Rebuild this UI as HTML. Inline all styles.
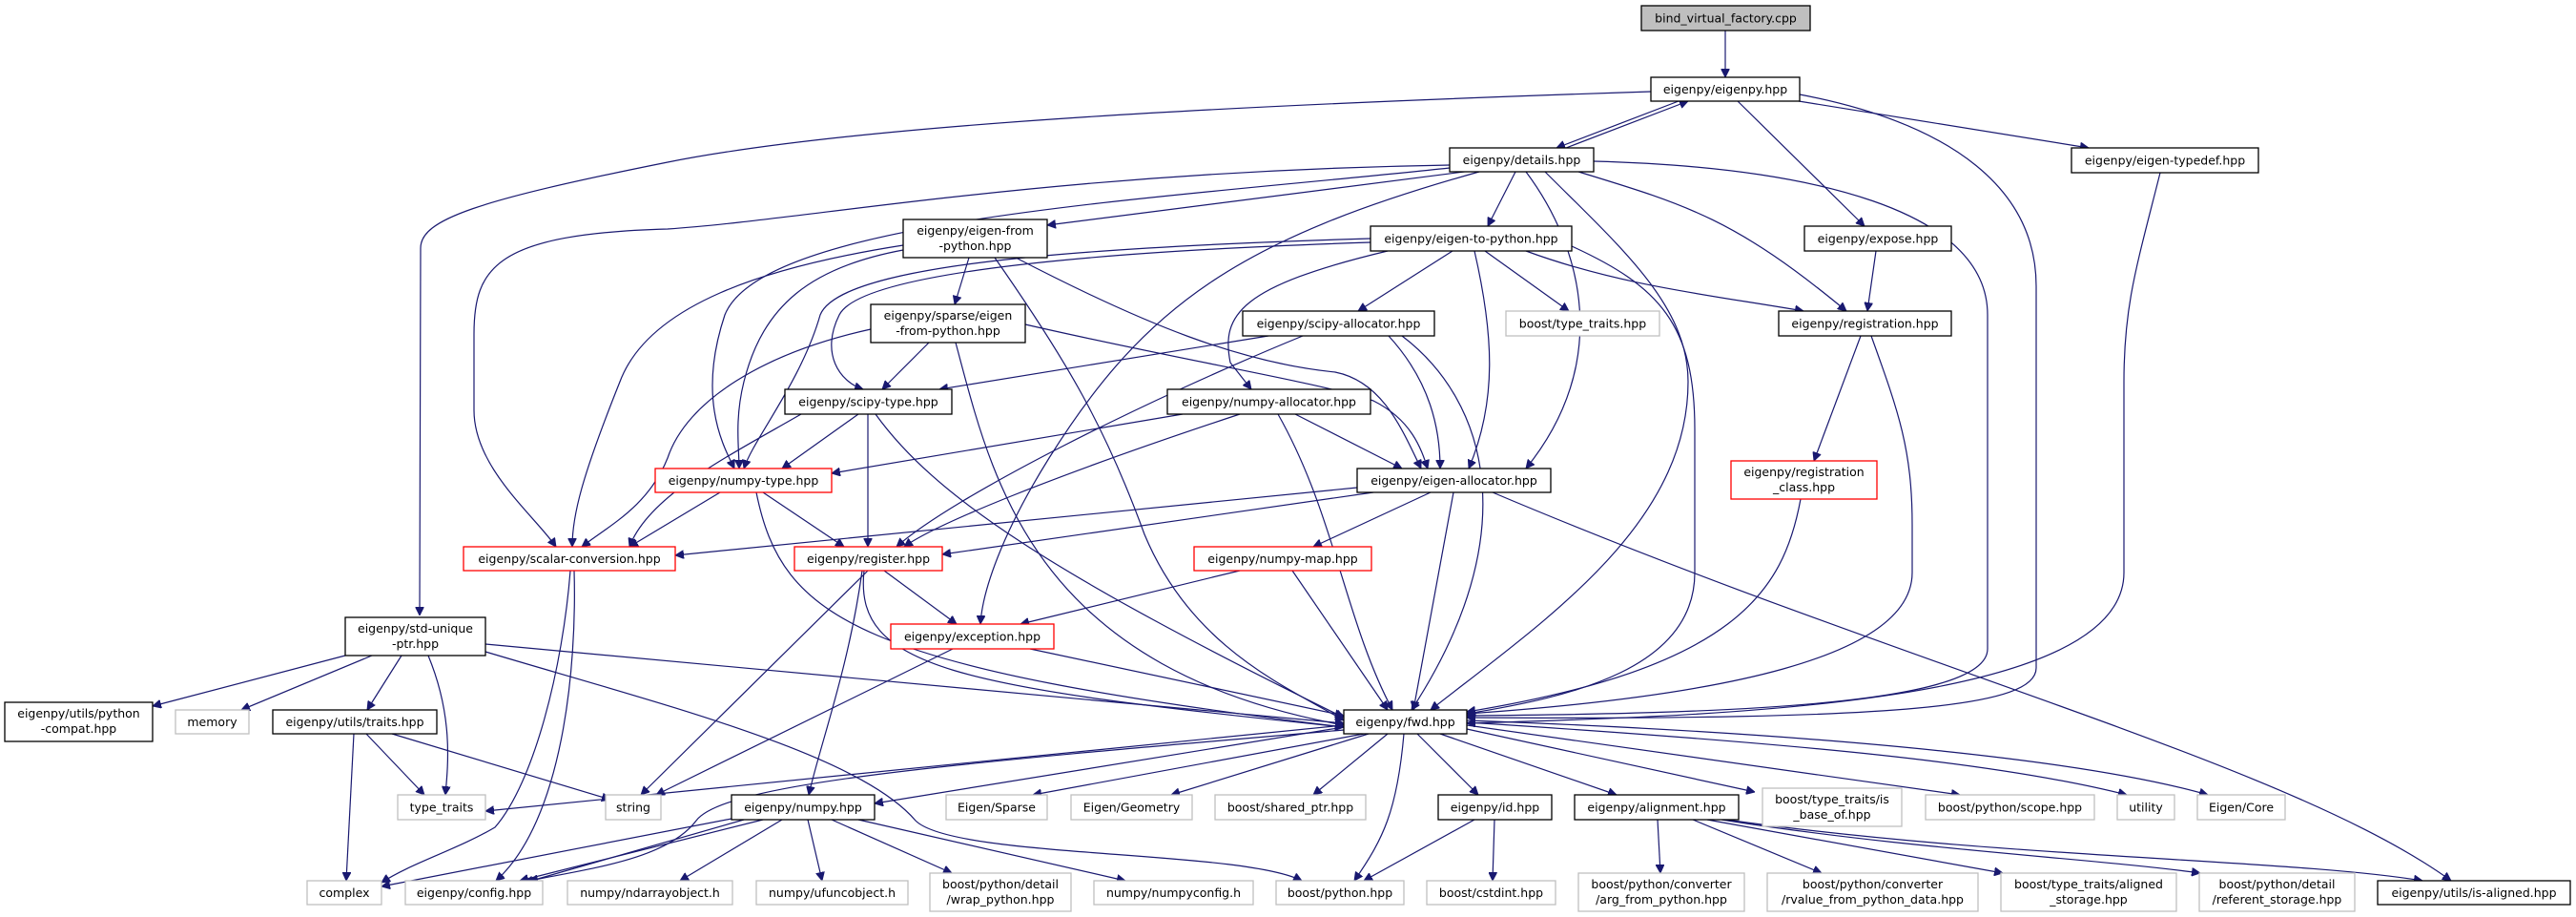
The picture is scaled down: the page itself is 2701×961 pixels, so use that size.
<!DOCTYPE html>
<html><head><meta charset="utf-8"><style>
html,body{margin:0;padding:0;background:#fff;}
svg{display:block;}
text{font-family:"DejaVu Sans","Liberation Sans",sans-serif;font-size:12.5px;fill:#000;text-anchor:middle;}
.n{fill:#fff;stroke:#000;stroke-width:1.3;}
.g{fill:#fff;stroke:#bfbfbf;stroke-width:1.3;}
.r{fill:#fff;stroke:#ff0000;stroke-width:1.3;}
.e path{fill:none;stroke:#191970;stroke-width:1.2;}
</style></head><body>
<svg width="2701" height="961" viewBox="0 0 2701 961" xmlns="http://www.w3.org/2000/svg">
<defs><marker id="a" viewBox="0 0 10 10" refX="10" refY="5" markerWidth="9" markerHeight="9" markerUnits="userSpaceOnUse" orient="auto"><path d="M0,0 L10,5 L0,10 z" fill="#191970" stroke="#191970"/></marker></defs>
<g class="e" marker-end="url(#a)">
<path marker-end="url(#a)" d="M1809,32 L1809,81"/>
<path marker-end="url(#a)" d="M1760,106 L1632,155"/>
<path marker-end="url(#a)" d="M1642,155 L1770,106"/>
<path marker-end="url(#a)" d="M1886,106 L2190,155"/>
<path marker-end="url(#a)" d="M1822,106 L1955,237"/>
<path marker-end="url(#a)" d="M1887,99 C2050,130 2135,200 2135,300 L2135,700 C2135,740 2000,755 1538,752"/>
<path marker-end="url(#a)" d="M1731,96 C1300,110 900,130 700,170 C500,210 441,230 441,260 L440,645"/>
<path marker-end="url(#a)" d="M2265,181 C2240,280 2227,320 2227,400 L2227,600 C2227,740 1800,750 1538,758"/>
<path marker-end="url(#a)" d="M1967,263 L1958,326"/>
<path marker-end="url(#a)" d="M1951,352 L1902,483"/>
<path marker-end="url(#a)" d="M1962,352 C1990,430 2005,470 2005,550 L2005,600 C2005,690 1800,730 1538,748"/>
<path marker-end="url(#a)" d="M1888,523 C1870,620 1820,700 1538,746"/>
<path marker-end="url(#a)" d="M1551,178 L1098,236"/>
<path marker-end="url(#a)" d="M1589,180 L1560,237"/>
<path marker-end="url(#a)" d="M1655,180 C1770,215 1820,230 1936,326"/>
<path marker-end="url(#a)" d="M1671,169 C1900,175 2084,220 2084,330 L2084,680 C2084,740 1800,748 1538,750"/>
<path marker-end="url(#a)" d="M1520,173 C1100,180 850,230 700,240 C520,245 497,280 497,350 L497,430 C497,490 560,540 583,573"/>
<path marker-end="url(#a)" d="M1520,176 C1200,210 800,230 760,330 C730,420 760,470 770,491"/>
<path marker-end="url(#a)" d="M1551,180 C1300,250 1200,320 1100,480 C1050,560 1030,620 1028,654"/>
<path marker-end="url(#a)" d="M1620,180 C1700,260 1770,320 1770,400 C1770,550 1620,650 1500,744"/>
<path marker-end="url(#a)" d="M1600,180 C1660,260 1690,380 1600,491"/>
<path marker-end="url(#a)" d="M1600,263 C1700,300 1800,310 1891,326"/>
<path marker-end="url(#a)" d="M1523,263 L1424,326"/>
<path marker-end="url(#a)" d="M1557,263 L1645,326"/>
<path marker-end="url(#a)" d="M1455,263 C1300,300 1280,330 1290,380 L1312,408"/>
<path marker-end="url(#a)" d="M1546,263 C1566,350 1570,420 1540,491"/>
<path marker-end="url(#a)" d="M1648,258 C1740,300 1777,340 1777,450 L1777,600 C1777,700 1650,730 1538,748"/>
<path marker-end="url(#a)" d="M1437,250 C1100,260 880,280 860,330 C840,400 790,460 780,491"/>
<path marker-end="url(#a)" d="M1437,254 C1100,265 900,290 880,330 C860,370 880,400 905,408"/>
<path marker-end="url(#a)" d="M1016,270 L1001,319"/>
<path marker-end="url(#a)" d="M947,257 C800,280 680,320 650,400 C610,500 600,540 600,573"/>
<path marker-end="url(#a)" d="M947,262 C850,280 800,320 780,400 C770,440 775,470 775,491"/>
<path marker-end="url(#a)" d="M1043,270 C1120,380 1160,450 1200,560 C1250,680 1350,720 1409,755"/>
<path marker-end="url(#a)" d="M1065,270 C1200,340 1300,380 1400,390 C1450,400 1470,450 1490,491"/>
<path marker-end="url(#a)" d="M974,359 L925,408"/>
<path marker-end="url(#a)" d="M913,345 C800,370 720,420 700,480 C680,530 640,550 610,573"/>
<path marker-end="url(#a)" d="M1002,359 C1040,500 1080,700 1409,760"/>
<path marker-end="url(#a)" d="M1075,340 C1250,380 1380,400 1440,420 C1480,440 1490,470 1497,491"/>
<path marker-end="url(#a)" d="M1330,352 L985,408"/>
<path marker-end="url(#a)" d="M1366,352 C1200,420 1000,520 940,573"/>
<path marker-end="url(#a)" d="M1456,352 C1500,400 1510,450 1510,491"/>
<path marker-end="url(#a)" d="M1470,352 C1560,420 1600,560 1480,744"/>
<path marker-end="url(#a)" d="M900,434 L820,491"/>
<path marker-end="url(#a)" d="M840,434 C760,480 680,520 660,573"/>
<path marker-end="url(#a)" d="M910,434 L910,573"/>
<path marker-end="url(#a)" d="M918,434 C980,520 1100,600 1409,752"/>
<path marker-end="url(#a)" d="M1240,434 L872,496"/>
<path marker-end="url(#a)" d="M1300,434 C1100,500 980,550 948,573"/>
<path marker-end="url(#a)" d="M1358,434 L1470,491"/>
<path marker-end="url(#a)" d="M1340,434 C1400,540 1410,650 1460,744"/>
<path marker-end="url(#a)" d="M755,516 L660,573"/>
<path marker-end="url(#a)" d="M800,516 L885,573"/>
<path marker-end="url(#a)" d="M793,516 C820,650 900,700 1409,762"/>
<path marker-end="url(#a)" d="M1423,511 L708,582"/>
<path marker-end="url(#a)" d="M1440,516 L988,581"/>
<path marker-end="url(#a)" d="M1500,516 L1377,573"/>
<path marker-end="url(#a)" d="M1524,516 L1482,744"/>
<path marker-end="url(#a)" d="M1565,516 C2000,700 2400,800 2570,923"/>
<path marker-end="url(#a)" d="M927,598 L1003,654"/>
<path marker-end="url(#a)" d="M910,598 L672,833"/>
<path marker-end="url(#a)" d="M904,598 C890,700 860,780 848,833"/>
<path marker-end="url(#a)" d="M906,598 C895,700 1000,720 1409,762"/>
<path marker-end="url(#a)" d="M1300,598 L1070,654"/>
<path marker-end="url(#a)" d="M1355,598 L1455,744"/>
<path marker-end="url(#a)" d="M1080,680 L1409,750"/>
<path marker-end="url(#a)" d="M999,680 L688,833"/>
<path marker-end="url(#a)" d="M598,598 C590,700 560,820 519,867 C480,890 430,905 400,925"/>
<path marker-end="url(#a)" d="M602,598 C605,700 590,860 520,923"/>
<path marker-end="url(#a)" d="M362,687 L160,740"/>
<path marker-end="url(#a)" d="M390,687 L253,744"/>
<path marker-end="url(#a)" d="M421,687 L385,744"/>
<path marker-end="url(#a)" d="M449,687 C475,750 470,800 467,833"/>
<path marker-end="url(#a)" d="M509,675 L1409,758"/>
<path marker-end="url(#a)" d="M509,683 C700,740 900,790 960,860 C1000,900 1300,890 1365,923"/>
<path marker-end="url(#a)" d="M384,769 L445,833"/>
<path marker-end="url(#a)" d="M411,769 L640,838"/>
<path marker-end="url(#a)" d="M371,769 L363,923"/>
<path marker-end="url(#a)" d="M1409,760 L509,850"/>
<path marker-end="url(#a)" d="M1409,762 L917,842"/>
<path marker-end="url(#a)" d="M1409,765 C1000,800 760,820 730,860 C700,900 620,910 555,923"/>
<path marker-end="url(#a)" d="M1430,769 L1083,833"/>
<path marker-end="url(#a)" d="M1435,769 L1228,833"/>
<path marker-end="url(#a)" d="M1455,769 L1377,833"/>
<path marker-end="url(#a)" d="M1486,769 L1550,833"/>
<path marker-end="url(#a)" d="M1510,769 L1695,833"/>
<path marker-end="url(#a)" d="M1472,769 C1465,850 1450,880 1420,923"/>
<path marker-end="url(#a)" d="M1538,764 L1840,830"/>
<path marker-end="url(#a)" d="M1538,760 L2055,833"/>
<path marker-end="url(#a)" d="M1538,757 C1900,780 2100,800 2230,833"/>
<path marker-end="url(#a)" d="M1538,755 C1950,770 2200,800 2315,833"/>
<path marker-end="url(#a)" d="M767,858 L400,929"/>
<path marker-end="url(#a)" d="M800,859 L545,923"/>
<path marker-end="url(#a)" d="M780,859 L550,925"/>
<path marker-end="url(#a)" d="M820,859 L713,923"/>
<path marker-end="url(#a)" d="M847,859 L862,923"/>
<path marker-end="url(#a)" d="M872,859 L998,915"/>
<path marker-end="url(#a)" d="M900,859 L1180,923"/>
<path marker-end="url(#a)" d="M1546,859 L1430,923"/>
<path marker-end="url(#a)" d="M1567,859 L1565,923"/>
<path marker-end="url(#a)" d="M1738,859 L1741,915"/>
<path marker-end="url(#a)" d="M1775,859 L1910,915"/>
<path marker-end="url(#a)" d="M1790,859 L2100,915"/>
<path marker-end="url(#a)" d="M1805,859 C2000,890 2200,900 2307,915"/>
<path marker-end="url(#a)" d="M1810,859 C2100,900 2400,900 2540,923"/>
</g>
<g>
<rect x="1721" y="6" width="177" height="26" fill="#bfbfbf" stroke="#000" stroke-width="1.3"/><text x="1809.5" y="23.5">bind_virtual_factory.cpp</text>
<rect class="n" x="1731" y="81" width="156" height="25"/><text x="1809" y="98">eigenpy/eigenpy.hpp</text>
<rect class="n" x="1520" y="155" width="151" height="25"/><text x="1595.5" y="172">eigenpy/details.hpp</text>
<rect class="n" x="2172" y="155" width="196" height="26"/><text x="2270" y="172.5">eigenpy/eigen-typedef.hpp</text>
<rect class="n" x="947" y="230" width="151" height="40"/><text x="1022.5" y="246">eigenpy/eigen-from</text><text x="1022.5" y="262">-python.hpp</text>
<rect class="n" x="1437" y="237" width="211" height="26"/><text x="1542.5" y="254.5">eigenpy/eigen-to-python.hpp</text>
<rect class="n" x="1892" y="237" width="154" height="26"/><text x="1969" y="254.5">eigenpy/expose.hpp</text>
<rect class="n" x="913" y="319" width="162" height="40"/><text x="994" y="335">eigenpy/sparse/eigen</text><text x="994" y="351">-from-python.hpp</text>
<rect class="n" x="1303" y="326" width="201" height="26"/><text x="1403.5" y="343.5">eigenpy/scipy-allocator.hpp</text>
<rect class="g" x="1579" y="326" width="161" height="26"/><text x="1659.5" y="343.5">boost/type_traits.hpp</text>
<rect class="n" x="1865" y="326" width="181" height="26"/><text x="1955.5" y="343.5">eigenpy/registration.hpp</text>
<rect class="n" x="823" y="408" width="175" height="26"/><text x="910.5" y="425.5">eigenpy/scipy-type.hpp</text>
<rect class="n" x="1224" y="408" width="213" height="26"/><text x="1330.5" y="425.5">eigenpy/numpy-allocator.hpp</text>
<rect class="r" x="687" y="491" width="185" height="25"/><text x="779.5" y="508">eigenpy/numpy-type.hpp</text>
<rect class="n" x="1423" y="491" width="203" height="25"/><text x="1524.5" y="508">eigenpy/eigen-allocator.hpp</text>
<rect class="r" x="1815" y="483" width="153" height="40"/><text x="1891.5" y="499">eigenpy/registration</text><text x="1891.5" y="515">_class.hpp</text>
<rect class="r" x="486" y="573" width="222" height="25"/><text x="597" y="590">eigenpy/scalar-conversion.hpp</text>
<rect class="r" x="833" y="573" width="155" height="25"/><text x="910.5" y="590">eigenpy/register.hpp</text>
<rect class="r" x="1252" y="573" width="186" height="25"/><text x="1345" y="590">eigenpy/numpy-map.hpp</text>
<rect class="n" x="362" y="647" width="147" height="40"/><text x="435.5" y="663">eigenpy/std-unique</text><text x="435.5" y="679">-ptr.hpp</text>
<rect class="r" x="934" y="654" width="171" height="26"/><text x="1019.5" y="671.5">eigenpy/exception.hpp</text>
<rect class="n" x="5" y="736" width="155" height="41"/><text x="82.5" y="752">eigenpy/utils/python</text><text x="82.5" y="768">-compat.hpp</text>
<rect class="g" x="184" y="744" width="77" height="25"/><text x="222.5" y="761">memory</text>
<rect class="n" x="286" y="744" width="172" height="25"/><text x="372" y="761">eigenpy/utils/traits.hpp</text>
<rect class="n" x="1409" y="744" width="129" height="25"/><text x="1473.5" y="761">eigenpy/fwd.hpp</text>
<rect class="g" x="417" y="833" width="92" height="26"/><text x="463" y="850.5">type_traits</text>
<rect class="g" x="635" y="833" width="58" height="26"/><text x="664" y="850.5">string</text>
<rect class="n" x="767" y="833" width="150" height="26"/><text x="842" y="850.5">eigenpy/numpy.hpp</text>
<rect class="g" x="992" y="833" width="106" height="26"/><text x="1045" y="850.5">Eigen/Sparse</text>
<rect class="g" x="1123" y="833" width="127" height="26"/><text x="1186.5" y="850.5">Eigen/Geometry</text>
<rect class="g" x="1274" y="833" width="158" height="26"/><text x="1353" y="850.5">boost/shared_ptr.hpp</text>
<rect class="n" x="1508" y="833" width="119" height="26"/><text x="1567.5" y="850.5">eigenpy/id.hpp</text>
<rect class="n" x="1651" y="833" width="172" height="26"/><text x="1737" y="850.5">eigenpy/alignment.hpp</text>
<rect class="g" x="1848" y="826" width="146" height="40"/><text x="1921" y="842">boost/type_traits/is</text><text x="1921" y="858">_base_of.hpp</text>
<rect class="g" x="2019" y="833" width="177" height="26"/><text x="2107.5" y="850.5">boost/python/scope.hpp</text>
<rect class="g" x="2220" y="833" width="60" height="26"/><text x="2250" y="850.5">utility</text>
<rect class="g" x="2304" y="833" width="92" height="26"/><text x="2350" y="850.5">Eigen/Core</text>
<rect class="g" x="322" y="923" width="78" height="25"/><text x="361" y="940">complex</text>
<rect class="g" x="425" y="923" width="144" height="25"/><text x="497" y="940">eigenpy/config.hpp</text>
<rect class="g" x="595" y="923" width="173" height="25"/><text x="681.5" y="940">numpy/ndarrayobject.h</text>
<rect class="g" x="793" y="923" width="159" height="25"/><text x="872.5" y="940">numpy/ufuncobject.h</text>
<rect class="g" x="975" y="915" width="148" height="40"/><text x="1049" y="931">boost/python/detail</text><text x="1049" y="947">/wrap_python.hpp</text>
<rect class="g" x="1147" y="923" width="167" height="25"/><text x="1230.5" y="940">numpy/numpyconfig.h</text>
<rect class="g" x="1338" y="923" width="134" height="25"/><text x="1405" y="940">boost/python.hpp</text>
<rect class="g" x="1496" y="923" width="135" height="25"/><text x="1563.5" y="940">boost/cstdint.hpp</text>
<rect class="g" x="1655" y="915" width="174" height="40"/><text x="1742" y="931">boost/python/converter</text><text x="1742" y="947">/arg_from_python.hpp</text>
<rect class="g" x="1853" y="915" width="221" height="40"/><text x="1963.5" y="931">boost/python/converter</text><text x="1963.5" y="947">/rvalue_from_python_data.hpp</text>
<rect class="g" x="2098" y="915" width="184" height="40"/><text x="2190" y="931">boost/type_traits/aligned</text><text x="2190" y="947">_storage.hpp</text>
<rect class="g" x="2306" y="915" width="163" height="40"/><text x="2387.5" y="931">boost/python/detail</text><text x="2387.5" y="947">/referent_storage.hpp</text>
<rect class="n" x="2493" y="923" width="202" height="25"/><text x="2594" y="940">eigenpy/utils/is-aligned.hpp</text>
</g>
</svg>
</body></html>
